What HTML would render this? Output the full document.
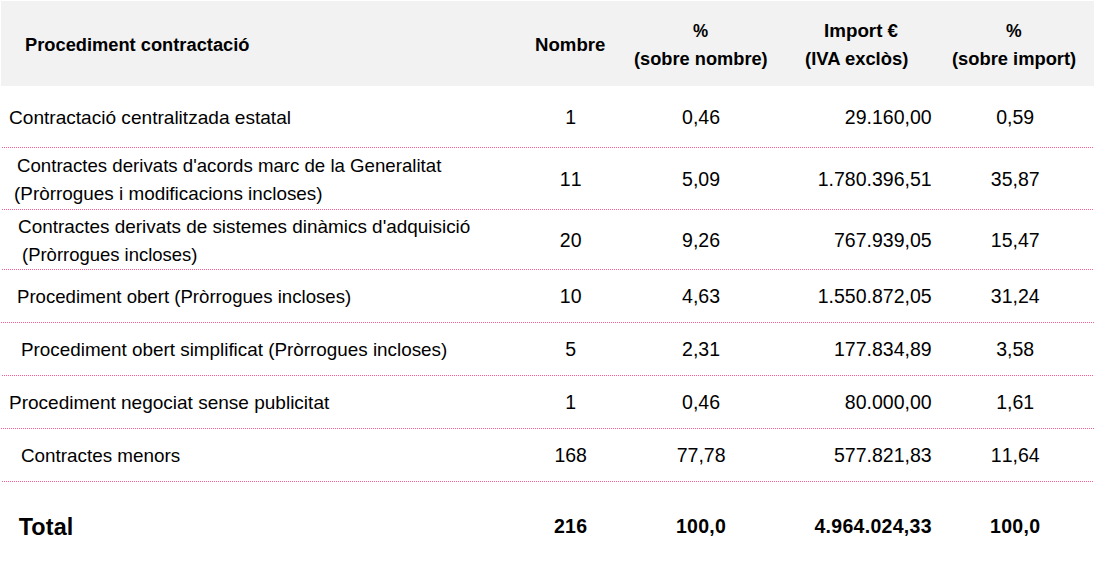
<!DOCTYPE html>
<html lang="ca">
<head>
<meta charset="utf-8">
<title>Procediment contractació</title>
<style>
html,body{margin:0;padding:0;background:#fff;}
body{width:1094px;height:581px;position:relative;overflow:hidden;font-family:"Liberation Sans", sans-serif;color:#000;}
.hd{position:absolute;left:1px;top:1px;width:1093px;height:85px;background:#f2f2f2;}
.t{position:absolute;white-space:nowrap;font-weight:400;transform-origin:0 0;}
.b{font-weight:700;}
.c.b,.r.b{letter-spacing:0.3px;}
.r.b{margin-left:0.3px;}
.c{position:absolute;white-space:nowrap;line-height:22px;font-kerning:none;text-align:center;width:200px;font-size:19.5px;}
.r{position:absolute;white-space:nowrap;line-height:22px;font-kerning:none;text-align:right;width:200px;font-size:19.5px;}
.ln{position:absolute;height:1px;background-image:repeating-linear-gradient(to right,#ff5c93 0,#ff5c93 1px,transparent 1px,transparent 2px);}
.e{left:2px;width:1091px;}.o{left:1px;width:1093px;}
</style>
</head>
<body>
<div class="hd"></div>
<div class="ln e" style="top:147px"></div>
<div class="ln e" style="top:209px"></div>
<div class="ln e" style="top:269px"></div>
<div class="ln o" style="top:322px"></div>
<div class="ln e" style="top:375px"></div>
<div class="ln o" style="top:428px"></div>
<div class="ln e" style="top:481px"></div>
<div id="h1" class="t b" style="left:25.41px;top:35px;font-size:18.0px;line-height:20px;transform:scaleX(1.0153)">Procediment contractació</div>
<div id="h2" class="t b" style="left:534.63px;top:35px;font-size:18.0px;line-height:20px;transform:scaleX(1.0345)">Nombre</div>
<div id="h3a" class="t b" style="left:692.96px;top:21px;font-size:18.0px;line-height:20px;transform:scaleX(0.9459)">%</div>
<div id="h3b" class="t b" style="left:634.02px;top:49px;font-size:18.0px;line-height:20px;transform:scaleX(1.0126)">(sobre nombre)</div>
<div id="h4a" class="t b" style="left:824.11px;top:21px;font-size:18.0px;line-height:20px;transform:scaleX(1.0430)">Import €</div>
<div id="h4b" class="t b" style="left:805.32px;top:49px;font-size:18.0px;line-height:20px;transform:scaleX(1.0230)">(IVA exclòs)</div>
<div id="h5a" class="t b" style="left:1005.78px;top:21px;font-size:18.0px;line-height:20px;transform:scaleX(0.9781)">%</div>
<div id="h5b" class="t b" style="left:952.32px;top:49px;font-size:18.0px;line-height:20px;transform:scaleX(1.0181)">(sobre import)</div>
<div id="r1" class="t" style="left:9.11px;top:107px;font-size:18.5px;line-height:21px;transform:scaleX(1.0310)">Contractació centralitzada estatal</div>
<div id="r2a" class="t" style="left:16.89px;top:155px;font-size:18.5px;line-height:21px;transform:scaleX(1.0079)">Contractes derivats d'acords marc de la Generalitat</div>
<div id="r2b" class="t" style="left:13.65px;top:183px;font-size:18.5px;line-height:21px;transform:scaleX(1.0209)">(Pròrrogues i modificacions incloses)</div>
<div id="r3a" class="t" style="left:18.35px;top:216px;font-size:18.5px;line-height:21px;transform:scaleX(1.0220)">Contractes derivats de sistemes dinàmics d'adquisició</div>
<div id="r3b" class="t" style="left:22.04px;top:244px;font-size:18.5px;line-height:21px;transform:scaleX(0.9981)">(Pròrrogues incloses)</div>
<div id="r4" class="t" style="left:17.01px;top:286px;font-size:18.5px;line-height:21px;transform:scaleX(1.0061)">Procediment obert (Pròrrogues incloses)</div>
<div id="r5" class="t" style="left:21.17px;top:339px;font-size:18.5px;line-height:21px;transform:scaleX(1.0187)">Procediment obert simplificat (Pròrrogues incloses)</div>
<div id="r6" class="t" style="left:8.67px;top:392px;font-size:18.5px;line-height:21px;transform:scaleX(1.0277)">Procediment negociat sense publicitat</div>
<div id="r7" class="t" style="left:20.56px;top:445px;font-size:18.5px;line-height:21px;transform:scaleX(1.0187)">Contractes menors</div>
<div id="tot" class="t b" style="left:18.70px;top:514px;font-size:23.4px;line-height:26px;letter-spacing:0.125px">Total</div>
<div id="n0a" class="c" style="left:470.70px;top:106px">1</div>
<div id="n0b" class="c" style="left:601.10px;top:106px">0,46</div>
<div id="n0c" class="r" style="left:731.60px;top:106px">29.160,00</div>
<div id="n0d" class="c" style="left:915.20px;top:106px">0,59</div>
<div id="n1a" class="c" style="left:470.70px;top:168px">11</div>
<div id="n1b" class="c" style="left:601.10px;top:168px">5,09</div>
<div id="n1c" class="r" style="left:731.60px;top:168px">1.780.396,51</div>
<div id="n1d" class="c" style="left:915.20px;top:168px">35,87</div>
<div id="n2a" class="c" style="left:470.70px;top:229px">20</div>
<div id="n2b" class="c" style="left:601.10px;top:229px">9,26</div>
<div id="n2c" class="r" style="left:731.60px;top:229px">767.939,05</div>
<div id="n2d" class="c" style="left:915.20px;top:229px">15,47</div>
<div id="n3a" class="c" style="left:470.70px;top:285px">10</div>
<div id="n3b" class="c" style="left:601.10px;top:285px">4,63</div>
<div id="n3c" class="r" style="left:731.60px;top:285px">1.550.872,05</div>
<div id="n3d" class="c" style="left:915.20px;top:285px">31,24</div>
<div id="n4a" class="c" style="left:470.70px;top:338px">5</div>
<div id="n4b" class="c" style="left:601.10px;top:338px">2,31</div>
<div id="n4c" class="r" style="left:731.60px;top:338px">177.834,89</div>
<div id="n4d" class="c" style="left:915.20px;top:338px">3,58</div>
<div id="n5a" class="c" style="left:470.70px;top:391px">1</div>
<div id="n5b" class="c" style="left:601.10px;top:391px">0,46</div>
<div id="n5c" class="r" style="left:731.60px;top:391px">80.000,00</div>
<div id="n5d" class="c" style="left:915.20px;top:391px">1,61</div>
<div id="n6a" class="c" style="left:470.70px;top:444px">168</div>
<div id="n6b" class="c" style="left:601.10px;top:444px">77,78</div>
<div id="n6c" class="r" style="left:731.60px;top:444px">577.821,83</div>
<div id="n6d" class="c" style="left:915.20px;top:444px">11,64</div>
<div id="n7a" class="c b" style="left:470.70px;top:515px">216</div>
<div id="n7b" class="c b" style="left:601.10px;top:515px">100,0</div>
<div id="n7c" class="r b" style="left:731.60px;top:515px">4.964.024,33</div>
<div id="n7d" class="c b" style="left:915.20px;top:515px">100,0</div>
</body>
</html>
